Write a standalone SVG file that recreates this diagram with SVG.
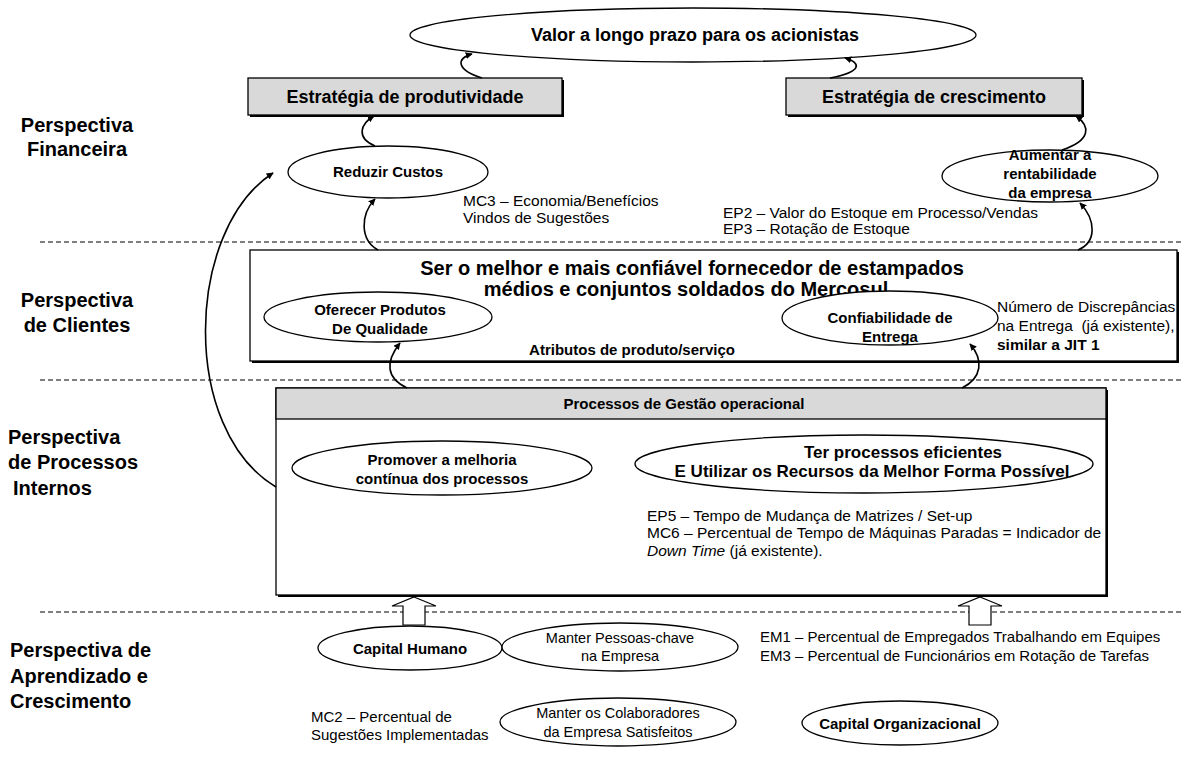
<svg xmlns="http://www.w3.org/2000/svg" width="1182" height="758" viewBox="0 0 1182 758">
<style>
.bg{fill:#fff}
.el{fill:#fff;stroke:#000;stroke-width:1.3}
.box{fill:#fff;stroke:#000;stroke-width:1.3}
.gbox{fill:#d9d9d9;stroke:#000;stroke-width:1.3}
.sh{fill:#000}
.dash{stroke:#000;stroke-width:1;stroke-dasharray:5,3;fill:none}
.con{fill:none;stroke:#000;stroke-width:1.6}
.blk{fill:#fff;stroke:#000;stroke-width:1.2}
text{font-family:"Liberation Sans",Arial,sans-serif;fill:#000}
.b{font-weight:bold}
.persp{font-size:20px;font-weight:bold}
.t18{font-size:18px;font-weight:bold;text-anchor:middle}
.t20{font-size:20px;font-weight:bold;text-anchor:middle}
.lb{font-size:15px;font-weight:bold;text-anchor:middle}
.lb17{font-size:17px;font-weight:bold;text-anchor:middle}
.lr{font-size:14.5px;text-anchor:middle}
.n{font-size:15.5px}
.m{font-size:15px}
.c{text-anchor:middle}
</style>
<defs>
<marker id="ah" viewBox="0 0 10 10" refX="9" refY="5" markerWidth="7" markerHeight="7" orient="auto" markerUnits="userSpaceOnUse">
<path d="M0,0 L10,5 L0,10 z" fill="#000"/>
</marker>
</defs>
<rect class="bg" x="0" y="0" width="1182" height="758"/>

<g id="perspective-labels">
<text class="persp c" x="77" y="132">Perspectiva</text>
<text class="persp c" x="77" y="156">Financeira</text>
<text class="persp c" x="77" y="307">Perspectiva</text>
<text class="persp c" x="77" y="332">de Clientes</text>
<text class="persp" x="8" y="444">Perspectiva</text>
<text class="persp" x="8" y="469">de Processos</text>
<text class="persp" x="13" y="495">Internos</text>
<text class="persp" x="10" y="657">Perspectiva de</text>
<text class="persp" x="10" y="683">Aprendizado e</text>
<text class="persp" x="10" y="708">Crescimento</text>
</g>

<g id="separators">
<line class="dash" x1="40" y1="242" x2="1182" y2="242"/>
<line class="dash" x1="40" y1="380" x2="1182" y2="380"/>
<line class="dash" x1="40" y1="612" x2="1182" y2="612"/>
</g>

<g id="n-valor">
<ellipse class="el" cx="693" cy="35" rx="283" ry="27"/>
<text class="t18" x="695" y="41">Valor a longo prazo para os acionistas</text>
</g>

<g id="n-produtividade">
<rect class="sh" x="250" y="80" width="314" height="37"/>
<rect class="gbox" x="248" y="78" width="314" height="37"/>
<text class="t18" x="405" y="103">Estratégia de produtividade</text>
</g>

<g id="n-crescimento">
<rect class="sh" x="788" y="80" width="296" height="37"/>
<rect class="gbox" x="786" y="78" width="296" height="37"/>
<text class="t18" x="934" y="103">Estratégia de crescimento</text>
</g>

<g id="n-reduzir">
<ellipse class="el" cx="388" cy="172" rx="100" ry="26"/>
<text class="lb" x="388" y="177">Reduzir Custos</text>
</g>

<g id="n-aumentar">
<ellipse class="el" cx="1050" cy="176" rx="108" ry="26"/>
<text class="lb" x="1050" y="160">Aumentar a</text>
<text class="lb" x="1050" y="179">rentabilidade</text>
<text class="lb" x="1050" y="198">da empresa</text>
</g>

<g id="t-mc3">
<text class="n" x="463" y="206">MC3 – Economia/Benefícios</text>
<text class="n" x="463" y="223">Vindos de Sugestões</text>
</g>

<g id="t-ep2">
<text class="n" x="723" y="218">EP2 – Valor do Estoque em Processo/Vendas</text>
<text class="n" x="723" y="234">EP3 – Rotação de Estoque</text>
</g>

<g id="n-clientes">
<rect class="sh" x="252" y="252" width="927" height="111"/>
<rect class="box" x="250" y="250" width="927" height="111"/>
<text class="t20" x="692" y="275">Ser o melhor e mais confiável fornecedor de estampados</text>
<text class="t20" x="686" y="296">médios e conjuntos soldados do Mercosul</text>
<text class="lb" x="632" y="355">Atributos de produto/serviço</text>
</g>

<g id="n-oferecer">
<ellipse class="el" cx="378" cy="317" rx="114" ry="25"/>
<text class="lb" x="380" y="315">Oferecer Produtos</text>
<text class="lb" x="380" y="334">De Qualidade</text>
</g>

<g id="n-confiabilidade">
<ellipse class="el" cx="890" cy="318" rx="108" ry="27"/>
<text class="lb" x="890" y="323">Confiabilidade de</text>
<text class="lb" x="890" y="342">Entrega</text>
</g>

<g id="t-numero">
<text class="n" x="997" y="312">Número de Discrepâncias</text>
<text class="n" x="997" y="331">na Entrega&#160; (já existente),</text>
<text class="n b" x="997" y="350">similar a JIT 1</text>
</g>

<g id="n-processos">
<rect class="sh" x="278" y="390" width="830" height="207"/>
<rect class="box" x="276" y="388" width="830" height="207"/>
<rect class="gbox" x="276" y="388" width="830" height="31"/>
<text class="lb" x="684" y="409">Processos de Gestão operacional</text>
</g>

<g id="n-promover">
<ellipse class="el" cx="442" cy="468" rx="150" ry="27"/>
<text class="lb" x="442" y="465">Promover a melhoria</text>
<text class="lb" x="442" y="484">contínua dos processos</text>
</g>

<g id="n-ter">
<ellipse class="el" cx="864" cy="464" rx="229" ry="29"/>
<text class="lb17" x="903" y="458">Ter processos eficientes</text>
<text class="lb17" x="872" y="477">E Utilizar os Recursos da Melhor Forma Possível</text>
</g>

<g id="t-ep5">
<text class="n" x="647" y="521">EP5 – Tempo de Mudança de Matrizes / Set-up</text>
<text class="n" x="647" y="538">MC6 – Percentual de Tempo de Máquinas Paradas = Indicador de</text>
<text class="n" x="647" y="556"><tspan font-style="italic">Down Time</tspan> (já existente).</text>
</g>

<g id="n-capital-humano">
<ellipse class="el" cx="410" cy="648" rx="92" ry="22"/>
<text class="lb" x="410" y="654">Capital Humano</text>
</g>

<g id="n-manter-pessoas">
<ellipse class="el" cx="620" cy="647" rx="118" ry="24"/>
<text class="lr" x="620" y="643">Manter Pessoas-chave</text>
<text class="lr" x="620" y="661">na Empresa</text>
</g>

<g id="t-em1">
<text class="m" x="760" y="642">EM1 – Percentual de Empregados Trabalhando em Equipes</text>
<text class="m" x="760" y="661">EM3 – Percentual de Funcionários em Rotação de Tarefas</text>
</g>

<g id="t-mc2">
<text class="m" x="311" y="722">MC2 – Percentual de</text>
<text class="m" x="311" y="740">Sugestões Implementadas</text>
</g>

<g id="n-manter-colab">
<ellipse class="el" cx="618" cy="722" rx="118" ry="24"/>
<text class="lr" x="618" y="718">Manter os Colaboradores</text>
<text class="lr" x="618" y="737">da Empresa Satisfeitos</text>
</g>

<g id="n-capital-org">
<ellipse class="el" cx="900" cy="723" rx="98" ry="22"/>
<text class="lb" x="900" y="729">Capital Organizacional</text>
</g>

<g id="connectors">
<path class="con" d="M482 78 C456 70 456 58 472 54" marker-end="url(#ah)"/>
<path class="con" d="M830 78 C862 72 862 63 845 58" marker-end="url(#ah)"/>
<path class="con" d="M375 146 C356 138 360 124 374 116" marker-end="url(#ah)"/>
<path class="con" d="M1062 150 C1092 140 1090 126 1076 116" marker-end="url(#ah)"/>
<path class="con" d="M378 250 C360 240 360 215 375 199" marker-end="url(#ah)"/>
<path class="con" d="M1078 250 C1097 242 1096 220 1080 203" marker-end="url(#ah)"/>
<path class="con" d="M407 388 C386 378 385 362 400 343" marker-end="url(#ah)"/>
<path class="con" d="M962 388 C982 378 984 360 970 344" marker-end="url(#ah)"/>
<path class="con" d="M276 487 C180 430 185 230 273 173" marker-end="url(#ah)"/>
<polygon class="blk" points="414,597 436,606 425,606 425,625 403,625 403,606 392,606"/>
<polygon class="blk" points="980,597 1002,606 991,606 991,625 969,625 969,606 958,606"/>
</g>
</svg>
